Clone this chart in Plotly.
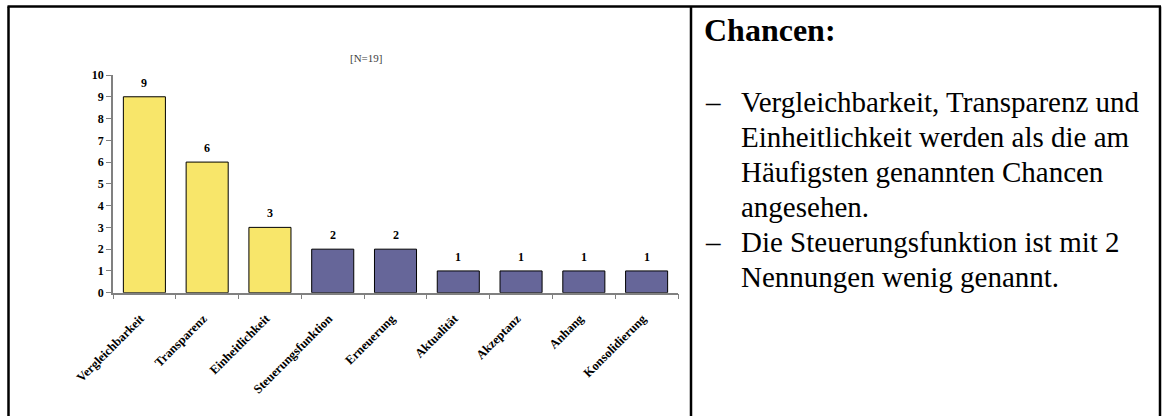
import plotly.graph_objects as go

W, H = 1164, 416

categories = ["Vergleichbarkeit", "Transparenz", "Einheitlichkeit", "Steuerungsfunktion",
              "Erneuerung", "Aktualität", "Akzeptanz", "Anhang", "Konsolidierung"]
counts = [9, 6, 3, 2, 2, 1, 1, 1, 1]
highlighted = [True, True, True, False, False, False, False, False, False]
sample_note = "[N=19]"

heading = "Chancen:"
bullets = [
    ["Vergleichbarkeit, Transparenz und",
     "Einheitlichkeit werden als die am",
     "Häufigsten genannten Chancen",
     "angesehen."],
    ["Die Steuerungsfunktion ist mit 2",
     "Nennungen wenig genannt."],
]

YELLOW = "#F8E66A"
BLUE = "#666699"
AXIS_GREY = "#808080"
SERIF = "Liberation Serif, Times New Roman, serif"


def px_x(x):
    return x / W


def px_y(y):
    return 1 - y / H


fig = go.Figure()
fig.add_trace(go.Bar(
    x=categories,
    y=counts,
    marker=dict(color=[YELLOW if h else BLUE for h in highlighted],
                line=dict(color="black", width=1)),
    width=0.67,
    hoverinfo="x+y",
))

annotations = []
# value labels above each bar
for cat, v in zip(categories, counts):
    annotations.append(dict(
        x=cat, y=v, xref="x", yref="y", text=f"<b>{v}</b>", showarrow=False,
        yanchor="bottom", yshift=5, font=dict(family=SERIF, size=12, color="black"),
    ))

annotations.append(dict(
    x=px_x(366), y=px_y(58), xref="paper", yref="paper", text=sample_note,
    showarrow=False, xanchor="center", yanchor="middle",
    font=dict(family=SERIF, size=11, color="#404040"),
))

# text panel on the right
annotations.append(dict(
    x=px_x(702), y=px_y(30), xref="paper", yref="paper", text=f"<b>{heading}</b>",
    showarrow=False, xanchor="left", yanchor="middle",
    font=dict(family=SERIF, size=32, color="black"),
))
line_y = 102
for item in bullets:
    annotations.append(dict(
        x=px_x(703), y=px_y(line_y), xref="paper", yref="paper", text="–",
        showarrow=False, xanchor="left", yanchor="middle",
        font=dict(family=SERIF, size=29, color="black"),
    ))
    for line in item:
        annotations.append(dict(
            x=px_x(739), y=px_y(line_y), xref="paper", yref="paper", text=line,
            showarrow=False, xanchor="left", yanchor="middle",
            font=dict(family=SERIF, size=29, color="black"),
        ))
        line_y += 35

# table frame around chart and text
frame = dict(color="black", width=2.5)
shapes = [
    dict(type="line", xref="paper", yref="paper", x0=px_x(7.5), x1=px_x(1161),
         y0=px_y(6.5), y1=px_y(6.5), line=frame),
    dict(type="line", xref="paper", yref="paper", x0=px_x(8.5), x1=px_x(8.5),
         y0=px_y(6.5), y1=px_y(420), line=frame),
    dict(type="line", xref="paper", yref="paper", x0=px_x(691), x1=px_x(691),
         y0=px_y(6.5), y1=px_y(420), line=frame),
    dict(type="line", xref="paper", yref="paper", x0=px_x(1160), x1=px_x(1160),
         y0=px_y(6.5), y1=px_y(420), line=frame),
]

fig.update_layout(
    width=W, height=H,
    margin=dict(l=0, r=0, t=0, b=0, autoexpand=False),
    paper_bgcolor="white", plot_bgcolor="white",
    showlegend=False,
    bargap=0.33,
    annotations=annotations,
    shapes=shapes,
    xaxis=dict(
        domain=[px_x(113), px_x(678)],
        range=[-0.5, 8.5],
        automargin=False,
        tickangle=-45,
        tickson="boundaries",
        ticklabelstandoff=12,
        ticklabelshift=-4,
        ticks="outside", ticklen=5, tickcolor=AXIS_GREY, tickwidth=1,
        showline=True, linecolor=AXIS_GREY, linewidth=1.5,
        showgrid=False, zeroline=False,
        tickfont=dict(family=SERIF, size=12.5, color="black", weight="bold"),
    ),
    yaxis=dict(
        domain=[px_y(292.7), px_y(75)],
        range=[0, 10], dtick=1,
        automargin=False,
        ticks="outside", ticklen=5, tickcolor=AXIS_GREY, tickwidth=1,
        showline=True, linecolor=AXIS_GREY, linewidth=1.5,
        showgrid=False, zeroline=False,
        tickfont=dict(family=SERIF, size=12, color="black", weight="bold"),
    ),
)

fig.write_html("out.html")
